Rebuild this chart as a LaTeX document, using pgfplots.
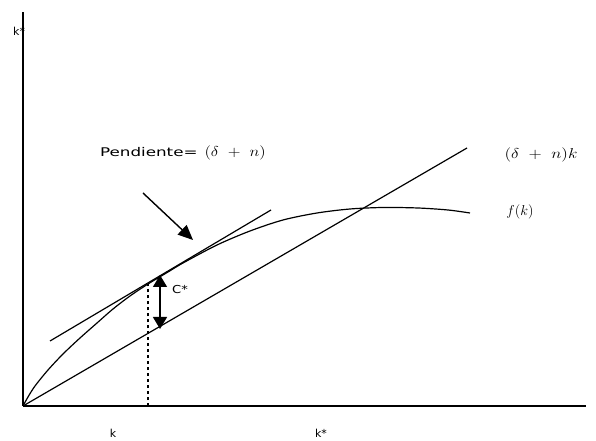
\documentclass[border=0pt]{standalone}
\usepackage{pgfplots}
\pgfplotsset{compat=1.18}
\usepackage{fontspec}
\setmainfont{DejaVu Sans}
\usetikzlibrary{arrows.meta}

% label stretched by #1 horizontally and #2 vertically
\newcommand{\wide}[3]{\scalebox{#1}[#2]{#3}}

\begin{document}
\begin{tikzpicture}
\begin{axis}[
  at={(0,0)}, anchor=origin,
  scale only axis, width=563bp, height=394bp,
  xmin=0, xmax=563, ymin=0, ymax=394,
  axis lines=left,
  axis line style={line width=1.3pt, -},
  xtick=\empty, ytick=\empty,
  clip=false,
]
% capital requirement line (delta + n) k
\addplot[black, line width=1.2pt] coordinates {(0,0) (444,258)};
% production function f(k)
\addplot[black, line width=1.2pt, smooth] coordinates {
  (0,0) (5,9) (12,20) (25,36) (40,52) (57,68) (74,83) (90,97)
  (107,110) (125,122) (145,134) (160,143) (194,161) (227,175)
  (260,186) (294,193) (327,197) (360,198.5) (395,198) (425,196) (447,193)};
% tangent at the golden-rule capital stock
\addplot[black, line width=1.2pt] coordinates {(27,65) (248,196)};
% dashed guide down to the k axis
\addplot[black, line width=1.1pt, dashed] coordinates {(125,0) (125,122)};
% consumption gap c*
\addplot[black, line width=1.3pt,
  {Triangle[length=12bp,width=14bp]}-{Triangle[length=12bp,width=14bp]}]
  coordinates {(137,131) (137,77)};
% arrow pointing at the tangency
\addplot[black, line width=1.4pt, -{Triangle[length=15bp,width=13bp]}]
  coordinates {(120,213) (170,166)};

\node[font=\fontsize{12}{14}\selectfont, inner sep=0pt] at (axis cs:160,253)
  {\wide{1.4}{1}{Pendiente=}\hspace{7bp}\wide{1.4}{1.2}{$(\delta\ +\ n)$}};
\node[font=\fontsize{12}{14}\selectfont] at (axis cs:518,251) {\wide{1.45}{1.2}{$(\delta\ +\ n)k$}};
\node[font=\fontsize{12}{14}\selectfont] at (axis cs:497,194) {\wide{1.2}{1.2}{$f(k)$}};
\node[font=\fontsize{11}{12}\selectfont] at (axis cs:157,116) {\wide{1.2}{1}{C*}};
\node[font=\fontsize{11}{12}\selectfont] at (axis cs:90,-27) {k};
\node[font=\fontsize{11}{12}\selectfont] at (axis cs:298,-27) {k*};
\node[font=\fontsize{11}{12}\selectfont, anchor=west, inner sep=0pt] at (axis cs:-10,375) {k*};
\end{axis}
\path[use as bounding box] (-23bp,-34bp) rectangle (573bp,406bp);
\end{tikzpicture}
\end{document}
